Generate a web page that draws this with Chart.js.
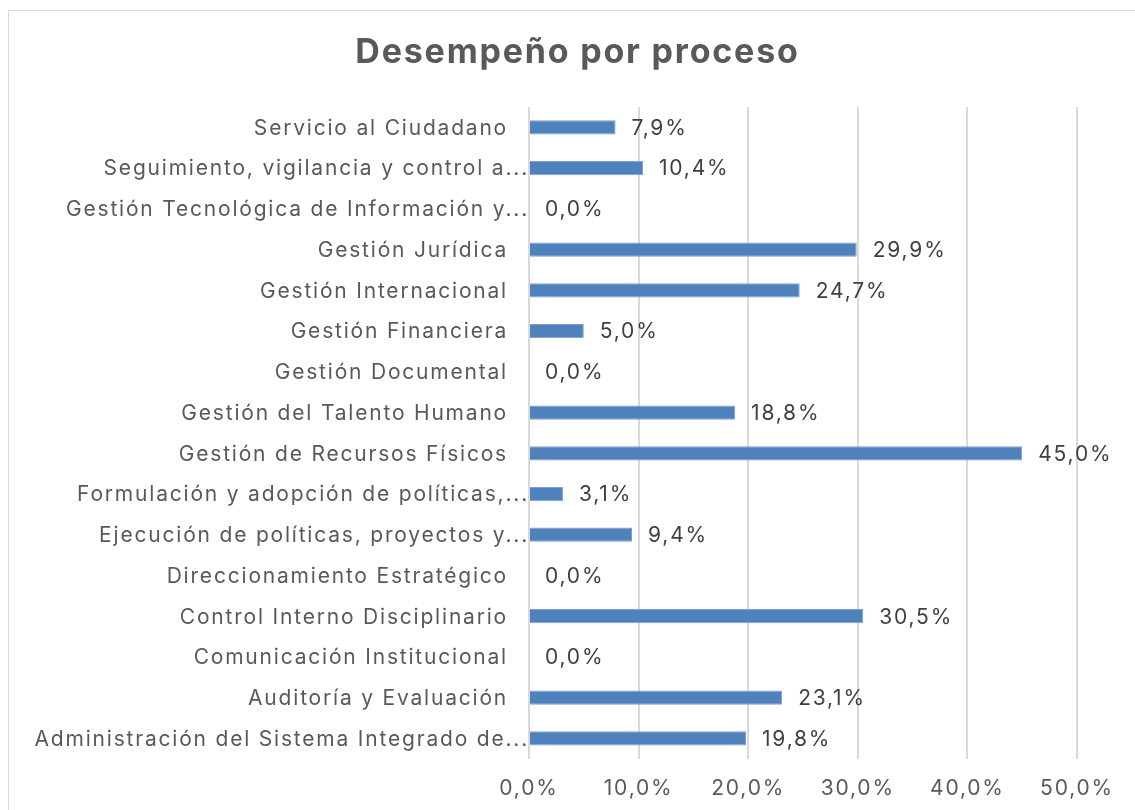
<!DOCTYPE html>
<html>
<head>
<meta charset="utf-8">
<script src="https://cdn.jsdelivr.net/npm/chart.js@4/dist/chart.umd.min.js"></script>
<style>
  body { margin: 0; background: #fff; }
  #frame { position: absolute; left: 8px; top: 10px; width: 1140px; height: 820px; border: 1px solid #d9d9d9; }
  #wrap { position: absolute; left: 0; top: 0; width: 1135px; height: 810px; }
</style>
</head>
<body>
<div id="frame"></div>
<div id="wrap"><canvas id="myChart"></canvas></div>
<script>
// categories, top to bottom as in the picture
const procesos = [
    'Servicio al Ciudadano',
    'Seguimiento, vigilancia y control a...',
    'Gestión Tecnológica de Información y...',
    'Gestión Jurídica',
    'Gestión Internacional',
    'Gestión Financiera',
    'Gestión Documental',
    'Gestión del Talento Humano',
    'Gestión de Recursos Físicos',
    'Formulación y adopción de políticas,...',
    'Ejecución de políticas, proyectos y...',
    'Direccionamiento Estratégico',
    'Control Interno Disciplinario',
    'Comunicación Institucional',
    'Auditoría y Evaluación',
    'Administración del Sistema Integrado de...'
];

// desempeño (fraction)
const desempeno = [0.079, 0.104, 0.0, 0.299, 0.247, 0.05, 0.0, 0.188, 0.45, 0.031, 0.094, 0.0, 0.305, 0.0, 0.231, 0.198];

const ejeMax = 0.5;
const ejePaso = 0.1;

const titulo = 'Desempeño por proceso';

const fuente = "Inter, 'Open Sans', sans-serif";
const espaciado = '1.8px';

function pct(v) {
    return (v * 100).toFixed(1).replace('.', ',') + '%';
}

// canvas state is reset on resize, so set spacing again before layout and draw
const espacio = {
    id: 'espacio',
    beforeLayout(chart) { chart.ctx.letterSpacing = espaciado; },
    beforeDraw(chart) { chart.ctx.letterSpacing = espaciado; }
};

// title centred on the whole frame, not on the padded layout
const encabezado = {
    id: 'encabezado',
    afterDraw(chart) {
        const ctx = chart.ctx;
        ctx.save();
        ctx.letterSpacing = espaciado;
        ctx.font = 'bold 34px ' + fuente;
        ctx.fillStyle = '#595959';
        ctx.textBaseline = 'middle';
        ctx.textAlign = 'center';
        ctx.fillText(titulo, chart.width / 2 + 10, 53);
        ctx.restore();
    }
};

// category names on the left, truncated ones reach closer to the axis
const nombres = {
    id: 'nombres',
    afterDraw(chart) {
        const ctx = chart.ctx;
        const y = chart.scales.y;
        ctx.save();
        ctx.letterSpacing = espaciado;
        ctx.font = '21px ' + fuente;
        ctx.fillStyle = '#595959';
        ctx.textBaseline = 'middle';
        ctx.textAlign = 'right';
        procesos.forEach((p, i) => {
            const gap = p.endsWith('...') ? 0 : 21;
            ctx.fillText(p, chart.chartArea.left - gap, y.getPixelForTick(i) + 1);
        });
        ctx.restore();
    }
};

// value next to each bar
const etiquetas = {
    id: 'etiquetas',
    afterDatasetsDraw(chart) {
        const ctx = chart.ctx;
        ctx.save();
        ctx.letterSpacing = espaciado;
        ctx.font = '21px ' + fuente;
        ctx.fillStyle = '#404040';
        ctx.textBaseline = 'middle';
        ctx.textAlign = 'left';
        chart.getDatasetMeta(0).data.forEach((bar, i) => {
            ctx.fillText(pct(desempeno[i]), bar.x + 16, bar.y + 1);
        });
        ctx.restore();
    }
};

const ctx = document.getElementById('myChart').getContext('2d');
const myChart = new Chart(ctx, {
    type: 'bar',
    data: {
        labels: procesos,
        datasets: [{
            data: desempeno,
            backgroundColor: '#4f81bd',
            borderColor: '#7ea0cf',
            borderWidth: 1,
            barPercentage: 0.7,
            categoryPercentage: 0.5
        }]
    },
    plugins: [espacio, encabezado, nombres, etiquetas],
    options: {
        indexAxis: 'y',
        responsive: true,
        maintainAspectRatio: false,
        animation: false,
        layout: {
            padding: { top: 107, right: 58, bottom: -8, left: 0 }
        },
        plugins: {
            legend: { display: false },
            tooltip: { enabled: false },
            title: { display: false }
        },
        scales: {
            x: {
                min: 0,
                max: ejeMax,
                ticks: {
                    stepSize: ejePaso,
                    color: '#595959',
                    font: { family: fuente, size: 21 },
                    padding: 17,
                    callback: (v) => pct(v)
                },
                grid: { color: '#d9d9d9', lineWidth: 2, drawTicks: false },
                border: { display: false }
            },
            y: {
                afterFit: (scale) => { scale.width = 529; },
                ticks: {
                    display: false,
                    font: { family: fuente, size: 21 },
                    padding: 20
                },
                grid: { display: false, drawTicks: false },
                border: { display: false }
            }
        }
    }
});
</script>
</body>
</html>
